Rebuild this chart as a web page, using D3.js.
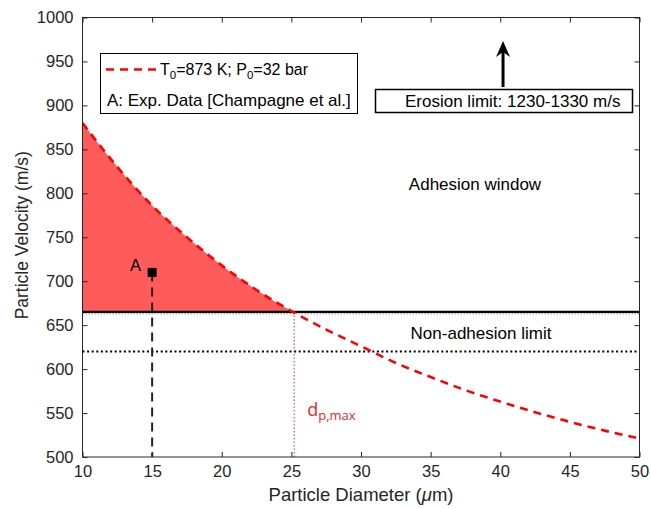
<!DOCTYPE html>
<html>
<head>
<meta charset="utf-8">
<script src="https://cdn.jsdelivr.net/npm/d3@7"></script>
<style>
  html, body { margin: 0; padding: 0; background: #fff; }
  svg { display: block; font-family: "Liberation Sans", Arial, sans-serif; }
</style>
</head>
<body>
<svg id="chart" width="651" height="509"></svg>
<script>
// Particle velocity vs. diameter (T0 = 873 K, P0 = 32 bar)
const diameters = [10, 12.5, 15, 17.5, 20, 22.5, 25, 27.5, 30, 32.5, 35, 37.5, 40, 42.5, 45, 47.5, 50];
const velocities = [880, 830, 786, 750, 718, 690, 666, 645, 626, 607, 591, 576, 563, 551, 540, 530, 521];

const criticalVelocity = 665;     // solid line: lower bound of adhesion window
const nonAdhesionVelocity = 620;  // dotted line
const dpMax = 25.2;               // intersection of curve and critical velocity
const expPoint = { d: 15, v: 710, label: "A" };

const xTicks = [10, 15, 20, 25, 30, 35, 40, 45, 50];
const yTicks = [500, 550, 600, 650, 700, 750, 800, 850, 900, 950, 1000];

const margin = { left: 82.5, right: 11.5, top: 17.5, bottom: 52 };
const W = 651, H = 509;
const svg = d3.select("#chart");

const x = d3.scaleLinear().domain([10, 50]).range([margin.left, W - margin.right]);
const y = d3.scaleLinear().domain([500, 1000]).range([H - margin.bottom, margin.top]);

const data = diameters.map((d, i) => ({ d, v: velocities[i] }));
const curve = d3.curveMonotoneX;

// clip to plot area
const defs = svg.append("defs");
defs.append("clipPath").attr("id", "plotClip")
  .append("rect").attr("x", x(10)).attr("y", y(1000))
  .attr("width", x(50) - x(10)).attr("height", y(500) - y(1000));

const plot = svg.append("g").attr("clip-path", "url(#plotClip)");

// shaded adhesion window: above critical velocity, below the curve
defs.append("clipPath").attr("id", "windowClip")
  .append("rect").attr("x", x(10)).attr("y", y(1000))
  .attr("width", x(dpMax) - x(10)).attr("height", y(criticalVelocity) - y(1000));

plot.append("path")
  .datum(data)
  .attr("clip-path", "url(#windowClip)")
  .attr("fill", "#ff5b5b")
  .attr("d", d3.area().x(p => x(p.d)).y0(y(criticalVelocity)).y1(p => y(p.v)).curve(curve));

// critical velocity line
plot.append("line")
  .attr("x1", x(10)).attr("x2", x(50))
  .attr("y1", y(criticalVelocity)).attr("y2", y(criticalVelocity))
  .attr("stroke", "#000").attr("stroke-width", 2.2);
plot.append("line")
  .attr("x1", x(10)).attr("x2", x(50))
  .attr("y1", y(criticalVelocity) + 1.8).attr("y2", y(criticalVelocity) + 1.8)
  .attr("stroke", "#888").attr("stroke-width", 1).attr("stroke-dasharray", "1.5,1.5");

// non-adhesion limit (dotted)
plot.append("line")
  .attr("x1", x(10)).attr("x2", x(50))
  .attr("y1", y(nonAdhesionVelocity)).attr("y2", y(nonAdhesionVelocity))
  .attr("stroke", "#000").attr("stroke-width", 2).attr("stroke-dasharray", "2,2.6");

// d_p,max marker
plot.append("line")
  .attr("x1", x(dpMax)).attr("x2", x(dpMax))
  .attr("y1", y(criticalVelocity)).attr("y2", y(500))
  .attr("stroke", "#e8242a").attr("stroke-width", 1).attr("stroke-dasharray", "1.5,2");

// experimental point drop line
plot.append("line")
  .attr("x1", x(expPoint.d)).attr("x2", x(expPoint.d))
  .attr("y1", y(expPoint.v)).attr("y2", y(500))
  .attr("stroke", "#222").attr("stroke-width", 2).attr("stroke-dasharray", "9,6");

// velocity curve
plot.append("path")
  .datum(data)
  .attr("fill", "none")
  .attr("stroke", "#ff0000")
  .attr("stroke-width", 2.6)
  .attr("stroke-dasharray", "8,6")
  .attr("d", d3.line().x(p => x(p.d)).y(p => y(p.v)).curve(curve));

// experimental point
svg.append("rect")
  .attr("x", x(expPoint.d) - 4.5).attr("y", y(expPoint.v) - 4.5)
  .attr("width", 9).attr("height", 9).attr("fill", "#000");
svg.append("text")
  .attr("x", x(expPoint.d) - 11).attr("y", y(expPoint.v) - 1)
  .attr("text-anchor", "end").attr("font-size", 16.5).text(expPoint.label);

// axes with inward ticks on all four sides
const tickLen = 5;
const axisB = d3.axisBottom(x).tickValues(xTicks).tickSizeInner(-tickLen).tickSizeOuter(0).tickPadding(8).tickFormat(d3.format("d"));
const axisT = d3.axisTop(x).tickValues(xTicks).tickSizeInner(-tickLen).tickSizeOuter(0).tickFormat("");
const axisL = d3.axisLeft(y).tickValues(yTicks).tickSizeInner(-tickLen).tickSizeOuter(0).tickPadding(9).tickFormat(d3.format("d"));
const axisR = d3.axisRight(y).tickValues(yTicks).tickSizeInner(-tickLen).tickSizeOuter(0).tickFormat("");

function styleAxis(g) {
  g.select(".domain").remove();
  g.selectAll(".tick line").attr("stroke", "#262626").attr("stroke-width", 1);
  g.selectAll(".tick text").attr("fill", "#262626").attr("font-size", 16.5)
    .attr("font-family", "Liberation Sans, Arial, sans-serif");
}
svg.append("g").attr("transform", `translate(0,${y(500)})`).call(axisB).call(styleAxis);
svg.append("g").attr("transform", `translate(0,${y(1000)})`).call(axisT).call(styleAxis);
svg.append("g").attr("transform", `translate(${x(10)},0)`).call(axisL).call(styleAxis);
svg.append("g").attr("transform", `translate(${x(50)},0)`).call(axisR).call(styleAxis);

// frame
svg.append("rect")
  .attr("x", x(10)).attr("y", y(1000))
  .attr("width", x(50) - x(10)).attr("height", y(500) - y(1000))
  .attr("fill", "none").attr("stroke", "#262626").attr("stroke-width", 1);

// axis titles
const xt = svg.append("text")
  .attr("x", (x(10) + x(50)) / 2).attr("y", 501)
  .attr("text-anchor", "middle").attr("font-size", 18.5).attr("fill", "#262626");
xt.append("tspan").text("Particle Diameter (");
xt.append("tspan").attr("font-style", "italic").text("\u03bc");
xt.append("tspan").text("m)");

svg.append("text")
  .attr("transform", `translate(28,${(y(500) + y(1000)) / 2 - 2}) rotate(-90)`)
  .attr("text-anchor", "middle").attr("font-size", 17.5).attr("fill", "#262626")
  .text("Particle Velocity (m/s)");

// region annotations
svg.append("text").attr("x", 475).attr("y", 190).attr("text-anchor", "middle")
  .attr("font-size", 17).text("Adhesion window");
svg.append("text").attr("x", 481).attr("y", 339).attr("text-anchor", "middle")
  .attr("font-size", 17).text("Non-adhesion limit");

const dlab = svg.append("text").attr("x", x(dpMax) + 13).attr("y", 416)
  .attr("fill", "#e0282e").attr("font-family", "Open Sans, sans-serif").attr("font-size", 18);
dlab.append("tspan").text("d");
dlab.append("tspan").attr("dy", 4).attr("font-size", 13).text("p,max");

// legend
const lg = svg.append("g");
lg.append("rect").attr("x", 100.5).attr("y", 53.5).attr("width", 257).attr("height", 60)
  .attr("fill", "#fff").attr("stroke", "#000").attr("stroke-width", 1);
lg.append("line").attr("x1", 106).attr("x2", 157).attr("y1", 69.5).attr("y2", 69.5)
  .attr("stroke", "#ff0000").attr("stroke-width", 2.6).attr("stroke-dasharray", "8,6");
const t1 = lg.append("text").attr("x", 160).attr("y", 75).attr("font-size", 16);
t1.append("tspan").text("T");
t1.append("tspan").attr("dy", 4).attr("font-size", 11.5).text("0");
t1.append("tspan").attr("dy", -4).text("=873 K; P");
t1.append("tspan").attr("dy", 4).attr("font-size", 11.5).text("0");
t1.append("tspan").attr("dy", -4).text("=32 bar");
lg.append("text").attr("x", 107).attr("y", 106).attr("font-size", 17)
  .text("A: Exp. Data [Champagne et al.]");

// erosion limit box and arrow
svg.append("rect").attr("x", 375.5).attr("y", 89.5).attr("width", 257).attr("height", 23)
  .attr("fill", "#fff").attr("stroke", "#000").attr("stroke-width", 1.5);
svg.append("text").attr("x", 405).attr("y", 107).attr("font-size", 17)
  .text("Erosion limit: 1230-1330 m/s");
svg.append("line").attr("x1", x(40.2)).attr("x2", x(40.2)).attr("y1", 87).attr("y2", 50)
  .attr("stroke", "#000").attr("stroke-width", 3);
svg.append("path")
  .attr("d", `M${x(40.2)},41 L${x(40.2) - 7},57 L${x(40.2)},52 L${x(40.2) + 7},57 Z`)
  .attr("fill", "#000");
</script>
</body>
</html>
